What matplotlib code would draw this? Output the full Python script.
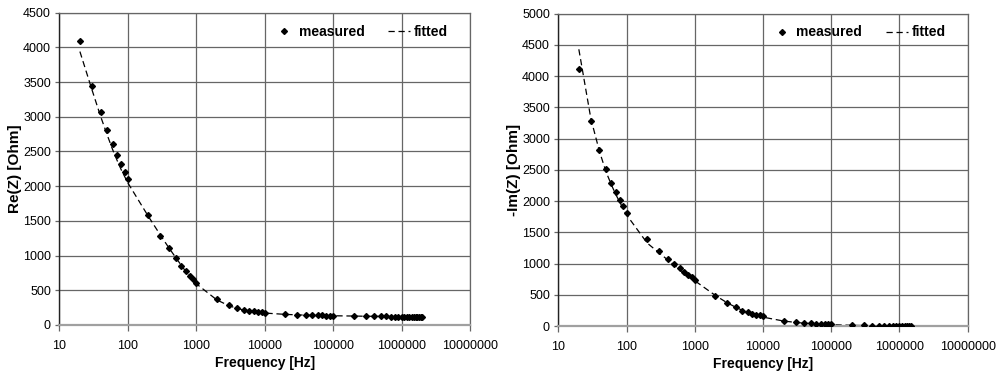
import matplotlib
matplotlib.use("Agg")
import matplotlib.pyplot as plt
from matplotlib.ticker import FixedLocator, FuncFormatter, NullLocator

plt.rcParams["font.family"] = ["Liberation Sans", "DejaVu Sans"]

# frequencies [Hz]
freq_re = [20, 30, 40, 50, 60, 70, 80, 90,
           100, 200, 300, 400, 500, 600, 700, 800, 900,
           1000, 2000, 3000, 4000, 5000, 6000, 7000, 8000, 9000,
           10000, 20000, 30000, 40000, 50000, 60000, 70000, 80000, 90000,
           100000, 200000, 300000, 400000, 500000, 600000, 700000, 800000, 900000,
           1000000, 1100000, 1200000, 1300000, 1400000, 1500000, 1600000,
           1700000, 1800000, 1900000, 2000000]
freq_im = freq_re[:50]

# Re(Z) measured / fitted
re_meas = [4085, 3450, 3065, 2805, 2605, 2445, 2315, 2205,
           2105, 1590, 1280, 1105, 970, 855, 780, 708, 660,
           611, 378, 290, 245, 222, 208, 198, 190, 184,
           178, 158, 148, 143, 140, 138, 137, 136, 135,
           134, 130, 127, 125, 124, 123, 122, 122, 121,
           121, 120, 120, 119, 119, 118, 118, 118, 117, 117, 117]
re_fit = [3940, 3390, 3010, 2740, 2530, 2370, 2240, 2140,
          2050, 1565, 1295, 1110, 975, 865, 775, 702, 645,
          595, 362, 278, 238, 215, 200, 190, 182, 176,
          172, 153, 146, 142, 139, 137, 136, 135, 134,
          133, 129, 126, 125, 124, 123, 122, 121, 121,
          120, 120, 119, 119, 119, 118, 118, 118, 117, 117, 117]

# -Im(Z) measured / fitted
im_meas = [4115, 3280, 2820, 2510, 2297, 2142, 2019, 1915,
           1816, 1389, 1197, 1074, 994, 924, 870, 817, 780,
           737, 481, 364, 300, 245, 218, 200, 181, 170,
           158, 80, 60, 48, 41, 36, 33, 30, 28,
           26, 18, 11, 8, 7, 6, 5, 5, 4,
           4, 4, 3, 3, 3, 3]
im_fit = [4430, 3320, 2800, 2470, 2260, 2100, 1980, 1870,
          1780, 1330, 1170, 1060, 975, 905, 850, 800, 760,
          725, 490, 370, 300, 250, 215, 190, 170, 155,
          142, 80, 58, 46, 38, 33, 29, 26, 23,
          21, 12, 8, 6, 5, 4, 4, 3, 3,
          3, 2, 2, 2, 2, 2]

grid_col = "#666666"


def style_axes(ax, ymax, ylabel):
    ax.set_xscale("log")
    ax.set_xlim(10, 1e7)
    ax.set_ylim(0, ymax)
    ax.xaxis.set_major_locator(FixedLocator([10 ** k for k in range(1, 8)]))
    ax.xaxis.set_minor_locator(NullLocator())
    ax.xaxis.set_major_formatter(FuncFormatter(lambda v, p: "%d" % round(v)))
    ax.set_yticks(range(0, ymax + 1, 500))
    ax.grid(True, color=grid_col, linewidth=0.9)
    ax.set_axisbelow(True)
    for s in ["top", "right"]:
        ax.spines[s].set_color(grid_col)
        ax.spines[s].set_linewidth(0.9)
    ax.spines["left"].set_color("#222222")
    ax.spines["left"].set_linewidth(1.0)
    ax.spines["bottom"].set_color("#a0a0a0")
    ax.spines["bottom"].set_linewidth(1.6)
    ax.tick_params(axis="x", length=4, width=0.9, color=grid_col, pad=7, labelsize=9)
    ax.tick_params(axis="y", length=3, width=0.9, color=grid_col, pad=3, labelsize=9)
    ax.set_xlabel("Frequency [Hz]", fontsize=10, fontweight="bold", labelpad=3)
    ax.set_ylabel(ylabel, fontsize=11, fontweight="bold", labelpad=1)


fig = plt.figure(figsize=(10, 3.79), dpi=100)
ax1 = fig.add_axes([0.0593, 0.1425, 0.4107, 0.824])
ax2 = fig.add_axes([0.5583, 0.1398, 0.4094, 0.8241])

for ax, f, meas, fit, ymax, lab in [
        (ax1, freq_re, re_meas, re_fit, 4500, "Re(Z) [Ohm]"),
        (ax2, freq_im, im_meas, im_fit, 5000, "-Im(Z) [Ohm]")]:
    ax.plot(f, meas, linestyle="none", marker="D", markersize=3.0,
            color="black", label="measured", zorder=3)
    ax.plot(f, fit, color="black", linewidth=0.9, dashes=(5, 3),
            label="fitted", zorder=2)
    style_axes(ax, ymax, lab)
    ax.legend(loc="upper right", bbox_to_anchor=(0.975, 1.0), ncol=2,
              frameon=False, prop={"weight": "bold", "size": 10},
              handlelength=1.6, handletextpad=0.25, columnspacing=1.7,
              borderaxespad=0.45)

fig.savefig("out.png", dpi=100)
